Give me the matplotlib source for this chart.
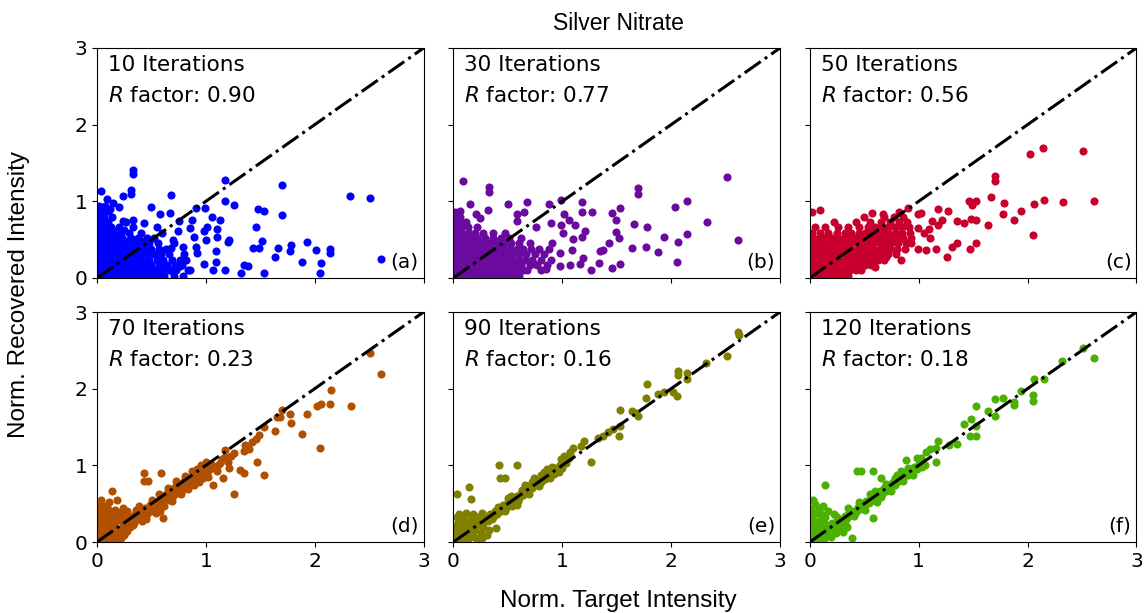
import numpy as np
import matplotlib
matplotlib.use("Agg")
import matplotlib.pyplot as plt

# panel info
iters = [10, 30, 50, 70, 90, 120]
rfac = [0.90, 0.77, 0.56, 0.23, 0.16, 0.18]
tags = ['(a)', '(b)', '(c)', '(d)', '(e)', '(f)']
colors = ['#0000ff', '#6a0a9e', '#c8002e', '#b05000', '#7f7f00', '#4cb000']

# (target, recovered) pairs
pts_a = [
    (0.33, 1.41), (0.33, 1.35), (1.18, 1.28), (1.70, 1.21), (2.32, 1.07), (2.51, 1.04), (2.61, 0.25),
    (0.68, 1.08), (0.31, 1.15), (0.31, 1.10), (0.24, 1.07), (0.04, 1.13), (1.18, 1.00), (1.26, 0.95),
    (1.48, 0.90), (1.53, 0.88), (1.70, 0.82), (0.50, 0.92), (0.58, 0.83), (0.67, 0.85), (0.99, 0.91),
    (1.06, 0.80), (1.13, 0.76), (1.46, 0.66), (1.52, 0.48), (1.43, 0.39), (1.49, 0.39), (1.66, 0.39),
    (1.78, 0.43), (1.77, 0.35), (1.93, 0.47), (2.01, 0.36), (2.14, 0.38), (2.14, 0.32), (1.64, 0.28),
    (1.88, 0.21), (2.06, 0.19), (2.05, 0.06), (1.35, 0.17), (1.39, 0.15), (1.53, 0.06), (1.32, 0.06),
    (1.18, 0.10), (1.20, 0.47), (1.21, 0.49), (1.09, 0.35), (1.10, 0.53), (1.10, 0.64), (1.01, 0.67),
    (0.98, 0.61), (1.00, 0.50), (1.07, 0.10), (1.09, 0.21), (0.98, 0.18), (0.91, 0.91), (0.87, 0.76),
    (0.85, 0.65), (0.89, 0.54), (0.91, 0.41), (0.92, 0.32), (0.75, 0.74), (0.74, 0.61), (0.70, 0.50),
    (0.68, 0.39), (0.79, 0.41), (0.82, 0.24), (0.85, 0.10), (0.67, 0.10), (0.76, 0.15), (0.55, 0.67),
    (0.43, 0.72), (0.33, 0.75), (0.24, 0.74), (0.15, 0.98), (0.20, 0.93), (0.09, 1.03), (0.12, 0.90),
    (0.02, 0.03), (0.07, 0.03), (0.12, 0.03), (0.18, 0.03), (0.23, 0.03), (0.28, 0.03), (0.34, 0.03),
    (0.39, 0.03), (0.45, 0.03), (0.50, 0.03), (0.56, 0.03), (0.62, 0.03), (0.71, 0.03), (0.79, 0.03),
    (0.03, 0.10), (0.09, 0.10), (0.14, 0.10), (0.19, 0.10), (0.25, 0.10), (0.31, 0.10), (0.36, 0.10),
    (0.42, 0.10), (0.47, 0.10), (0.53, 0.10), (0.60, 0.10), (0.66, 0.10), (0.73, 0.10), (0.84, 0.10),
    (0.01, 0.17), (0.06, 0.17), (0.11, 0.17), (0.17, 0.17), (0.22, 0.17), (0.27, 0.17), (0.33, 0.17),
    (0.38, 0.17), (0.44, 0.17), (0.50, 0.17), (0.57, 0.17), (0.64, 0.17), (0.72, 0.17), (0.78, 0.17),
    (0.03, 0.24), (0.08, 0.24), (0.14, 0.24), (0.20, 0.24), (0.25, 0.24), (0.30, 0.24), (0.36, 0.24),
    (0.41, 0.24), (0.48, 0.24), (0.55, 0.24), (0.61, 0.24), (0.69, 0.24), (0.76, 0.24),
    (0.02, 0.31), (0.07, 0.31), (0.12, 0.31), (0.18, 0.31), (0.23, 0.31), (0.29, 0.31), (0.35, 0.31),
    (0.40, 0.31), (0.46, 0.31), (0.52, 0.31), (0.59, 0.31), (0.66, 0.31), (0.80, 0.31),
    (0.01, 0.38), (0.06, 0.38), (0.11, 0.38), (0.16, 0.38), (0.22, 0.38), (0.27, 0.38), (0.33, 0.38),
    (0.39, 0.38), (0.45, 0.38), (0.50, 0.38), (0.57, 0.38), (0.63, 0.38),
    (0.03, 0.45), (0.08, 0.45), (0.13, 0.45), (0.19, 0.45), (0.25, 0.45), (0.30, 0.45), (0.37, 0.45),
    (0.43, 0.45), (0.48, 0.45), (0.56, 0.45), (0.71, 0.45),
    (0.02, 0.52), (0.07, 0.52), (0.12, 0.52), (0.18, 0.52), (0.23, 0.52), (0.31, 0.52), (0.38, 0.52),
    (0.46, 0.52), (0.52, 0.52),
    (0.01, 0.59), (0.06, 0.59), (0.11, 0.59), (0.16, 0.59), (0.22, 0.59), (0.29, 0.59), (0.40, 0.59),
    (0.60, 0.59), (0.02, 0.66), (0.07, 0.66), (0.13, 0.66), (0.20, 0.66), (0.33, 0.66),
    (0.01, 0.73), (0.05, 0.73), (0.10, 0.73), (0.27, 0.73), (0.02, 0.80), (0.06, 0.80), (0.14, 0.80),
    (0.01, 0.87), (0.04, 0.87), (0.10, 0.87), (0.02, 0.94), (0.07, 0.94),
    (0.05, 0.065), (0.15, 0.065), (0.26, 0.065), (0.37, 0.065), (0.48, 0.065), (0.58, 0.065),
    (0.04, 0.20), (0.15, 0.20), (0.25, 0.20), (0.35, 0.20), (0.47, 0.20), (0.60, 0.20),
    (0.05, 0.34), (0.15, 0.34), (0.26, 0.34), (0.37, 0.34), (0.48, 0.34), (0.04, 0.48),
    (0.15, 0.48), (0.27, 0.48), (0.41, 0.48), (0.04, 0.62), (0.14, 0.62), (0.25, 0.62),
]

pts_b = [
    (0.09, 1.27), (0.33, 1.19), (0.33, 1.12), (2.51, 1.32), (1.70, 1.17), (1.70, 1.10), (2.15, 1.00),
    (2.04, 0.92), (2.33, 0.73), (2.61, 0.50), (2.05, 0.21), (2.15, 0.57), (2.06, 0.47), (1.93, 0.54),
    (1.88, 0.34), (1.77, 0.41), (1.78, 0.67), (1.66, 0.70), (1.64, 0.39), (1.53, 0.91), (1.46, 0.85),
    (1.49, 0.76), (1.49, 0.60), (1.52, 0.52), (1.43, 0.45), (1.37, 0.36), (1.35, 0.35), (1.34, 0.20),
    (1.26, 0.10), (1.46, 0.13), (1.53, 0.18), (1.18, 0.99), (1.27, 0.86), (1.18, 0.86), (1.21, 0.61),
    (1.18, 0.53), (1.10, 0.51), (1.09, 0.37), (1.19, 0.26), (1.16, 0.18), (1.07, 0.17), (0.98, 0.15),
    (0.98, 0.32), (1.02, 0.83), (0.99, 1.02), (0.88, 0.97), (1.06, 0.76), (1.12, 0.69), (0.99, 0.69),
    (1.01, 0.59), (0.91, 0.45), (0.85, 0.12), (0.68, 0.99), (0.50, 0.96), (0.15, 0.96), (0.32, 0.89),
    (0.58, 0.83), (0.65, 0.86), (0.58, 0.74), (0.76, 0.67), (0.90, 0.72), (0.64, 0.10), (0.73, 0.19),
    (0.55, 0.24), (0.21, 0.83), (0.24, 0.78), (0.06, 0.87), (0.06, 0.80),
    (0.02, 0.03), (0.07, 0.03), (0.12, 0.03), (0.17, 0.03), (0.22, 0.03), (0.27, 0.03), (0.33, 0.03),
    (0.38, 0.03), (0.43, 0.03), (0.49, 0.03), (0.55, 0.03), (0.60, 0.03),
    (0.01, 0.10), (0.06, 0.10), (0.11, 0.10), (0.16, 0.10), (0.21, 0.10), (0.26, 0.10), (0.31, 0.10),
    (0.37, 0.10), (0.42, 0.10), (0.47, 0.10), (0.52, 0.10), (0.58, 0.10), (0.68, 0.10), (0.80, 0.10),
    (0.03, 0.17), (0.08, 0.17), (0.13, 0.17), (0.18, 0.17), (0.24, 0.17), (0.29, 0.17), (0.34, 0.17),
    (0.40, 0.17), (0.45, 0.17), (0.50, 0.17), (0.56, 0.17), (0.62, 0.17), (0.70, 0.17), (0.77, 0.17),
    (0.86, 0.17),
    (0.02, 0.24), (0.07, 0.24), (0.12, 0.24), (0.17, 0.24), (0.22, 0.24), (0.28, 0.24), (0.33, 0.24),
    (0.38, 0.24), (0.44, 0.24), (0.49, 0.24), (0.55, 0.24), (0.60, 0.24), (0.66, 0.24), (0.72, 0.24),
    (0.80, 0.24), (0.90, 0.24),
    (0.01, 0.31), (0.06, 0.31), (0.11, 0.31), (0.16, 0.31), (0.21, 0.31), (0.27, 0.31), (0.32, 0.31),
    (0.37, 0.31), (0.43, 0.31), (0.48, 0.31), (0.54, 0.31), (0.60, 0.31), (0.67, 0.31), (0.75, 0.31),
    (0.83, 0.31),
    (0.03, 0.38), (0.08, 0.38), (0.13, 0.38), (0.18, 0.38), (0.24, 0.38), (0.29, 0.38), (0.35, 0.38),
    (0.41, 0.38), (0.46, 0.38), (0.52, 0.38), (0.58, 0.38), (0.64, 0.38), (0.71, 0.38), (0.79, 0.38),
    (0.88, 0.38),
    (0.02, 0.45), (0.07, 0.45), (0.12, 0.45), (0.17, 0.45), (0.23, 0.45), (0.28, 0.45), (0.34, 0.45),
    (0.40, 0.45), (0.47, 0.45), (0.53, 0.45), (0.60, 0.45), (0.70, 0.45),
    (0.01, 0.52), (0.06, 0.52), (0.11, 0.52), (0.16, 0.52), (0.22, 0.52), (0.29, 0.52), (0.36, 0.52),
    (0.44, 0.52), (0.51, 0.52), (0.62, 0.52),
    (0.03, 0.59), (0.08, 0.59), (0.14, 0.59), (0.20, 0.59), (0.27, 0.59), (0.36, 0.59), (0.47, 0.59),
    (0.02, 0.66), (0.07, 0.66), (0.13, 0.66), (0.22, 0.66), (0.01, 0.73), (0.05, 0.73), (0.12, 0.73),
    (0.02, 0.80), (0.01, 0.86),
    (0.05, 0.065), (0.15, 0.065), (0.25, 0.065), (0.36, 0.065), (0.46, 0.065), (0.04, 0.20),
    (0.15, 0.20), (0.26, 0.20), (0.37, 0.20), (0.48, 0.20), (0.60, 0.20), (0.05, 0.34), (0.14, 0.34),
    (0.25, 0.34), (0.35, 0.34), (0.46, 0.34), (0.57, 0.34), (0.04, 0.48), (0.15, 0.48), (0.26, 0.48),
    (0.38, 0.48),
]

pts_c = [
    (0.09, 0.89), (0.02, 0.86), (2.02, 1.62), (2.14, 1.69), (2.51, 1.66), (1.70, 1.33), (1.70, 1.26),
    (1.66, 1.06), (1.46, 1.00), (1.53, 1.00), (1.49, 0.95), (1.78, 0.98), (2.06, 0.96), (2.15, 1.02),
    (2.33, 0.99), (2.61, 1.00), (1.94, 0.88), (1.77, 0.83), (1.88, 0.76), (1.64, 0.69), (1.53, 0.75),
    (1.48, 0.77), (1.42, 0.72), (1.35, 0.74), (2.05, 0.56), (1.53, 0.45), (1.47, 0.38), (1.35, 0.45),
    (1.31, 0.41), (1.26, 0.27), (1.16, 0.38), (1.07, 0.37), (0.99, 0.38), (1.18, 0.90), (1.27, 0.87),
    (1.21, 0.76), (1.18, 0.69), (1.12, 0.74), (1.09, 0.64), (1.05, 0.59), (1.10, 0.52), (0.99, 0.65),
    (0.99, 0.83), (1.02, 0.85), (0.90, 0.91), (0.82, 0.86), (0.67, 0.84), (0.57, 0.85), (0.84, 0.24),
    (0.60, 0.14), (0.93, 0.45), (0.70, 0.28),
    (0.01, 0.03), (0.05, 0.03), (0.10, 0.03), (0.15, 0.03), (0.20, 0.03), (0.25, 0.03), (0.30, 0.03),
    (0.35, 0.03),
    (0.02, 0.10), (0.07, 0.10), (0.12, 0.10), (0.17, 0.10), (0.22, 0.10), (0.27, 0.10), (0.32, 0.10),
    (0.37, 0.10), (0.42, 0.10), (0.47, 0.10),
    (0.01, 0.17), (0.06, 0.17), (0.11, 0.17), (0.16, 0.17), (0.21, 0.17), (0.26, 0.17), (0.31, 0.17),
    (0.36, 0.17), (0.41, 0.17), (0.46, 0.17), (0.51, 0.17), (0.56, 0.17),
    (0.02, 0.24), (0.07, 0.24), (0.12, 0.24), (0.17, 0.24), (0.22, 0.24), (0.27, 0.24), (0.32, 0.24),
    (0.38, 0.24), (0.43, 0.24), (0.48, 0.24), (0.53, 0.24), (0.58, 0.24), (0.63, 0.24), (0.68, 0.24),
    (0.01, 0.31), (0.06, 0.31), (0.11, 0.31), (0.16, 0.31), (0.21, 0.31), (0.26, 0.31), (0.32, 0.31),
    (0.37, 0.31), (0.42, 0.31), (0.47, 0.31), (0.52, 0.31), (0.57, 0.31), (0.62, 0.31), (0.67, 0.31),
    (0.72, 0.31), (0.79, 0.31),
    (0.02, 0.38), (0.07, 0.38), (0.12, 0.38), (0.17, 0.38), (0.23, 0.38), (0.28, 0.38), (0.33, 0.38),
    (0.38, 0.38), (0.44, 0.38), (0.49, 0.38), (0.54, 0.38), (0.59, 0.38), (0.64, 0.38), (0.69, 0.38),
    (0.74, 0.38), (0.80, 0.38), (0.87, 0.38),
    (0.01, 0.45), (0.06, 0.45), (0.11, 0.45), (0.16, 0.45), (0.21, 0.45), (0.27, 0.45), (0.32, 0.45),
    (0.38, 0.45), (0.43, 0.45), (0.48, 0.45), (0.53, 0.45), (0.58, 0.45), (0.64, 0.45), (0.69, 0.45),
    (0.75, 0.45), (0.81, 0.45), (0.88, 0.45),
    (0.03, 0.52), (0.08, 0.52), (0.14, 0.52), (0.20, 0.52), (0.26, 0.52), (0.31, 0.52), (0.36, 0.52),
    (0.42, 0.52), (0.47, 0.52), (0.52, 0.52), (0.57, 0.52), (0.63, 0.52), (0.68, 0.52), (0.74, 0.52),
    (0.80, 0.52), (0.86, 0.52), (0.93, 0.52),
    (0.02, 0.59), (0.09, 0.59), (0.17, 0.59), (0.25, 0.59), (0.32, 0.59), (0.38, 0.59), (0.45, 0.59),
    (0.51, 0.59), (0.56, 0.59), (0.62, 0.59), (0.68, 0.59), (0.73, 0.59), (0.79, 0.59), (0.85, 0.59),
    (0.92, 0.59),
    (0.05, 0.66), (0.14, 0.66), (0.26, 0.66), (0.35, 0.66), (0.45, 0.66), (0.53, 0.66), (0.60, 0.66),
    (0.66, 0.66), (0.72, 0.66), (0.78, 0.66), (0.85, 0.66), (0.91, 0.66),
    (0.22, 0.73), (0.42, 0.73), (0.55, 0.73), (0.65, 0.73), (0.74, 0.73), (0.82, 0.73), (0.89, 0.73),
    (0.50, 0.80), (0.68, 0.80), (0.77, 0.80), (0.86, 0.80),
    (0.04, 0.065), (0.14, 0.065), (0.24, 0.065), (0.09, 0.20), (0.19, 0.20), (0.29, 0.20),
    (0.40, 0.20), (0.05, 0.34), (0.15, 0.34), (0.25, 0.34), (0.35, 0.34), (0.45, 0.34), (0.55, 0.34),
    (0.65, 0.34), (0.10, 0.48), (0.24, 0.48), (0.35, 0.48), (0.46, 0.48), (0.56, 0.48), (0.67, 0.48),
    (0.78, 0.48),
]

pts_d = [
    (2.51, 2.47), (2.61, 2.19), (2.15, 1.98), (2.14, 1.80), (2.06, 1.80), (2.02, 1.77), (2.33, 1.77),
    (1.93, 1.67), (1.77, 1.67), (1.78, 1.55), (1.70, 1.72), (1.68, 1.63), (1.65, 1.63), (1.64, 1.45),
    (1.88, 1.41), (2.05, 1.22), (1.53, 1.50), (1.49, 1.39), (1.46, 1.35), (1.42, 1.31), (1.36, 1.27),
    (1.40, 1.21), (1.35, 1.19), (1.26, 1.16), (1.18, 1.20), (1.18, 1.11), (1.47, 1.05), (1.53, 0.88),
    (1.31, 0.94), (1.35, 0.90), (1.21, 0.97), (1.16, 0.84), (1.07, 0.74), (1.26, 0.63), (1.11, 1.01),
    (1.00, 1.05), (0.98, 0.96), (1.02, 0.85), (0.43, 0.90), (0.59, 0.90), (0.43, 0.80), (0.47, 0.80),
    (0.14, 0.66), (0.18, 0.55), (0.04, 0.55), (0.03, 0.43), (0.58, 0.40), (0.61, 0.31), (0.25, 0.09),
    (0.01, 0.02), (0.04, 0.05), (0.07, 0.02), (0.10, 0.06), (0.13, 0.03), (0.16, 0.08), (0.19, 0.04),
    (0.02, 0.10), (0.05, 0.13), (0.08, 0.10), (0.11, 0.15), (0.14, 0.12), (0.17, 0.16), (0.20, 0.12),
    (0.23, 0.18), (0.01, 0.18), (0.04, 0.22), (0.07, 0.18), (0.10, 0.23), (0.13, 0.20), (0.16, 0.25),
    (0.02, 0.27), (0.05, 0.31), (0.08, 0.27), (0.12, 0.30), (0.01, 0.35), (0.04, 0.39), (0.22, 0.05),
    (0.25, 0.10), (0.28, 0.15), (0.26, 0.22), (0.30, 0.20), (0.19, 0.30), (0.22, 0.27), (0.09, 0.36),
    (0.15, 0.34),
    (0.30, 0.26), (0.32, 0.32), (0.34, 0.25), (0.35, 0.36), (0.37, 0.30), (0.38, 0.40), (0.40, 0.33),
    (0.41, 0.28), (0.43, 0.39), (0.44, 0.44), (0.46, 0.36), (0.47, 0.43), (0.49, 0.48), (0.50, 0.40),
    (0.52, 0.46), (0.53, 0.52), (0.55, 0.44), (0.56, 0.50), (0.58, 0.55), (0.59, 0.47), (0.60, 0.60),
    (0.61, 0.53), (0.63, 0.58), (0.64, 0.64), (0.66, 0.55), (0.67, 0.62), (0.68, 0.68), (0.70, 0.60),
    (0.71, 0.66), (0.72, 0.72), (0.74, 0.64), (0.75, 0.70), (0.76, 0.76), (0.78, 0.68), (0.79, 0.74),
    (0.80, 0.80), (0.82, 0.72), (0.83, 0.78), (0.85, 0.84), (0.86, 0.76), (0.88, 0.82), (0.90, 0.88),
    (0.91, 0.80), (0.93, 0.86), (0.95, 0.91), (0.97, 0.84), (0.99, 0.92), (0.25, 0.30), (0.27, 0.24),
    (0.29, 0.34), (0.36, 0.42), (0.87, 0.93), (0.92, 0.95), (1.04, 0.95), (1.08, 0.98), (1.13, 1.03),
    (0.22, 0.35), (0.28, 0.40), (0.33, 0.22), (0.39, 0.47), (0.45, 0.30), (0.51, 0.55), (0.54, 0.38),
    (0.57, 0.62), (0.62, 0.47), (0.65, 0.70), (0.69, 0.53), (0.73, 0.79), (0.77, 0.62), (0.81, 0.86),
    (0.84, 0.69), (0.89, 0.74), (0.94, 0.78), (0.96, 1.00), (1.01, 0.89), (1.05, 1.02), (1.10, 0.93),
    (1.15, 1.08), (1.20, 1.05), (1.23, 1.12), (0.06, 0.47), (0.10, 0.43), (0.13, 0.39), (0.17, 0.42),
    (0.20, 0.38), (0.24, 0.44), (0.02, 0.50), (0.11, 0.52),
]

pts_e = [
    (2.61, 2.74), (2.62, 2.70), (2.51, 2.42), (2.32, 2.34), (2.15, 2.20), (2.15, 2.12), (2.06, 2.23),
    (2.06, 2.18), (2.05, 1.90), (2.02, 1.96), (1.93, 1.96), (1.88, 1.93), (1.78, 2.06), (1.77, 1.88),
    (1.70, 1.65), (1.68, 1.68), (1.64, 1.71), (1.53, 1.72), (1.53, 1.51), (1.52, 1.38), (1.47, 1.47),
    (1.42, 1.43), (1.37, 1.38), (1.33, 1.36), (1.26, 1.05), (1.20, 1.32), (1.17, 1.25), (1.10, 1.23),
    (1.07, 1.17), (1.02, 1.12), (0.99, 1.08), (0.42, 1.01), (0.58, 1.01), (0.43, 0.83), (0.47, 0.83),
    (0.14, 0.72), (0.16, 0.56), (0.03, 0.63), (0.39, 0.18), (0.56, 0.55), (0.58, 0.48),
    (0.01, 0.02), (0.04, 0.06), (0.07, 0.03), (0.10, 0.08), (0.13, 0.04), (0.16, 0.10), (0.19, 0.06),
    (0.02, 0.12), (0.05, 0.16), (0.08, 0.12), (0.11, 0.18), (0.14, 0.14), (0.17, 0.20), (0.20, 0.16),
    (0.23, 0.22), (0.01, 0.21), (0.04, 0.26), (0.07, 0.22), (0.10, 0.28), (0.13, 0.24), (0.03, 0.32),
    (0.22, 0.04), (0.25, 0.12), (0.27, 0.20), (0.20, 0.27), (0.16, 0.30), (0.28, 0.28), (0.24, 0.30),
    (0.30, 0.32), (0.32, 0.28), (0.34, 0.36), (0.36, 0.33), (0.38, 0.40), (0.40, 0.37), (0.42, 0.44),
    (0.44, 0.41), (0.46, 0.48), (0.48, 0.45), (0.50, 0.52), (0.52, 0.49), (0.54, 0.56), (0.56, 0.53),
    (0.58, 0.60), (0.60, 0.57), (0.62, 0.64), (0.64, 0.61), (0.66, 0.68), (0.68, 0.65), (0.70, 0.73),
    (0.72, 0.70), (0.74, 0.77), (0.76, 0.74), (0.78, 0.80), (0.80, 0.78), (0.82, 0.85), (0.84, 0.82),
    (0.86, 0.88), (0.88, 0.86), (0.90, 0.93), (0.92, 0.89), (0.94, 0.97), (0.96, 0.93), (0.98, 1.00),
    (1.00, 0.97), (0.86, 0.95), (0.80, 0.87), (0.74, 0.84), (0.72, 0.78), (0.66, 0.75), (0.50, 0.58),
    (0.54, 0.47),
    (0.05, 0.36), (0.09, 0.33), (0.12, 0.38), (0.18, 0.36), (0.22, 0.33), (0.26, 0.38), (0.35, 0.30),
    (0.41, 0.46), (0.47, 0.40), (0.53, 0.60), (0.59, 0.53), (0.63, 0.68), (0.69, 0.62), (0.75, 0.80),
    (0.79, 0.73), (0.83, 0.91), (0.89, 0.83), (0.91, 0.98), (0.97, 0.91), (1.03, 1.03), (1.06, 1.10),
    (0.31, 0.09), (0.33, 0.16), (0.26, 0.05),
]

pts_f = [
    (2.51, 2.53), (2.61, 2.40), (2.32, 2.36), (2.15, 2.12), (2.06, 2.12), (2.05, 1.92), (2.05, 1.84),
    (1.94, 1.97), (1.88, 1.83), (1.88, 1.79), (1.77, 1.88), (1.70, 1.87), (1.70, 1.65), (1.64, 1.71),
    (1.53, 1.78), (1.53, 1.51), (1.53, 1.38), (1.47, 1.38), (1.48, 1.60), (1.42, 1.54), (1.35, 1.28),
    (1.28, 1.26), (1.18, 1.32), (1.16, 1.23), (1.10, 1.21), (1.07, 1.17), (1.16, 1.05), (0.88, 1.07),
    (1.01, 1.05), (0.43, 0.93), (0.47, 0.92), (0.58, 0.93), (0.65, 0.84), (0.14, 0.74), (0.03, 0.55),
    (0.58, 0.31), (0.39, 0.05), (0.36, 0.36),
    (0.01, 0.03), (0.04, 0.07), (0.07, 0.03), (0.10, 0.08), (0.13, 0.04), (0.16, 0.10), (0.02, 0.13),
    (0.05, 0.17), (0.08, 0.13), (0.11, 0.19), (0.14, 0.15), (0.17, 0.21), (0.20, 0.17), (0.01, 0.23),
    (0.04, 0.28), (0.07, 0.24), (0.10, 0.30), (0.13, 0.26), (0.03, 0.34), (0.06, 0.38), (0.10, 0.36),
    (0.01, 0.43), (0.14, 0.33), (0.20, 0.25), (0.23, 0.20), (0.19, 0.07), (0.24, 0.12), (0.27, 0.27),
    (0.25, 0.33), (0.08, 0.45),
    (0.30, 0.30), (0.32, 0.34), (0.34, 0.31), (0.36, 0.38), (0.38, 0.35), (0.40, 0.41), (0.42, 0.39),
    (0.44, 0.46), (0.46, 0.43), (0.48, 0.50), (0.50, 0.47), (0.52, 0.53), (0.54, 0.51), (0.56, 0.58),
    (0.58, 0.55), (0.60, 0.61), (0.62, 0.59), (0.64, 0.66), (0.66, 0.63), (0.68, 0.70), (0.70, 0.67),
    (0.72, 0.74), (0.74, 0.71), (0.76, 0.78), (0.78, 0.75), (0.80, 0.82), (0.82, 0.79), (0.84, 0.86),
    (0.86, 0.83), (0.88, 0.90), (0.90, 0.87), (0.92, 0.94), (0.94, 0.91), (0.96, 0.98), (0.98, 0.95),
    (1.00, 1.02), (0.84, 0.93), (0.78, 0.84), (0.60, 0.67), (0.62, 0.52), (0.98, 1.10), (1.03, 0.98),
    (0.05, 0.50), (0.12, 0.47), (0.17, 0.40), (0.22, 0.37), (0.28, 0.20), (0.32, 0.25), (0.35, 0.44),
    (0.41, 0.34), (0.45, 0.52), (0.51, 0.42), (0.55, 0.63), (0.65, 0.59), (0.70, 0.76), (0.75, 0.67),
    (0.80, 0.88), (0.86, 0.79), (0.90, 0.96), (0.95, 0.87), (1.02, 1.10), (1.06, 1.00), (0.30, 0.13),
    (0.34, 0.20),
]

all_pts = [pts_a, pts_b, pts_c, pts_d, pts_e, pts_f]

plt.rcParams['font.family'] = 'DejaVu Sans'
plt.rcParams['font.size'] = 15

fig, axes = plt.subplots(2, 3, figsize=(11.45, 6.13), dpi=100, sharex=True, sharey=True)
fig.subplots_adjust(left=0.0847, right=0.9925, top=0.9217, bottom=0.1158, wspace=0.0915, hspace=0.148)

for i, ax in enumerate(axes.flat):
    p = np.array(all_pts[i])
    ax.scatter(p[:, 0], p[:, 1], s=34, color=colors[i], linewidths=0, zorder=2)
    ax.plot([0, 3], [0, 3], color='k', linestyle='-.', linewidth=2.2, zorder=3)
    ax.set_xlim(0, 3)
    ax.set_ylim(0, 3)
    ax.set_xticks([0, 1, 2, 3])
    ax.set_yticks([0, 1, 2, 3])
    ax.tick_params(labelsize=14.5)
    ax.text(0.033, 0.926, f'{iters[i]} Iterations', transform=ax.transAxes, fontsize=15.5, va='center')
    ax.text(0.033, 0.791, rf'$R$ factor: {rfac[i]:.2f}', transform=ax.transAxes, fontsize=15.5, va='center')
    ax.text(0.985, 0.03, tags[i], transform=ax.transAxes, fontsize=14.5, ha='right', va='bottom')

fig.text(0.54, 0.962, 'Silver Nitrate', ha='center', va='center', fontsize=16.5, family='Liberation Sans')
fig.text(0.54, 0.02, 'Norm. Target Intensity', ha='center', va='center', fontsize=17.5, family='Liberation Sans')
fig.text(0.017, 0.519, 'Norm. Recovered Intensity', ha='center', va='center', rotation=90,
         fontsize=17.5, family='Liberation Sans')

fig.savefig('out.png', dpi=100)
